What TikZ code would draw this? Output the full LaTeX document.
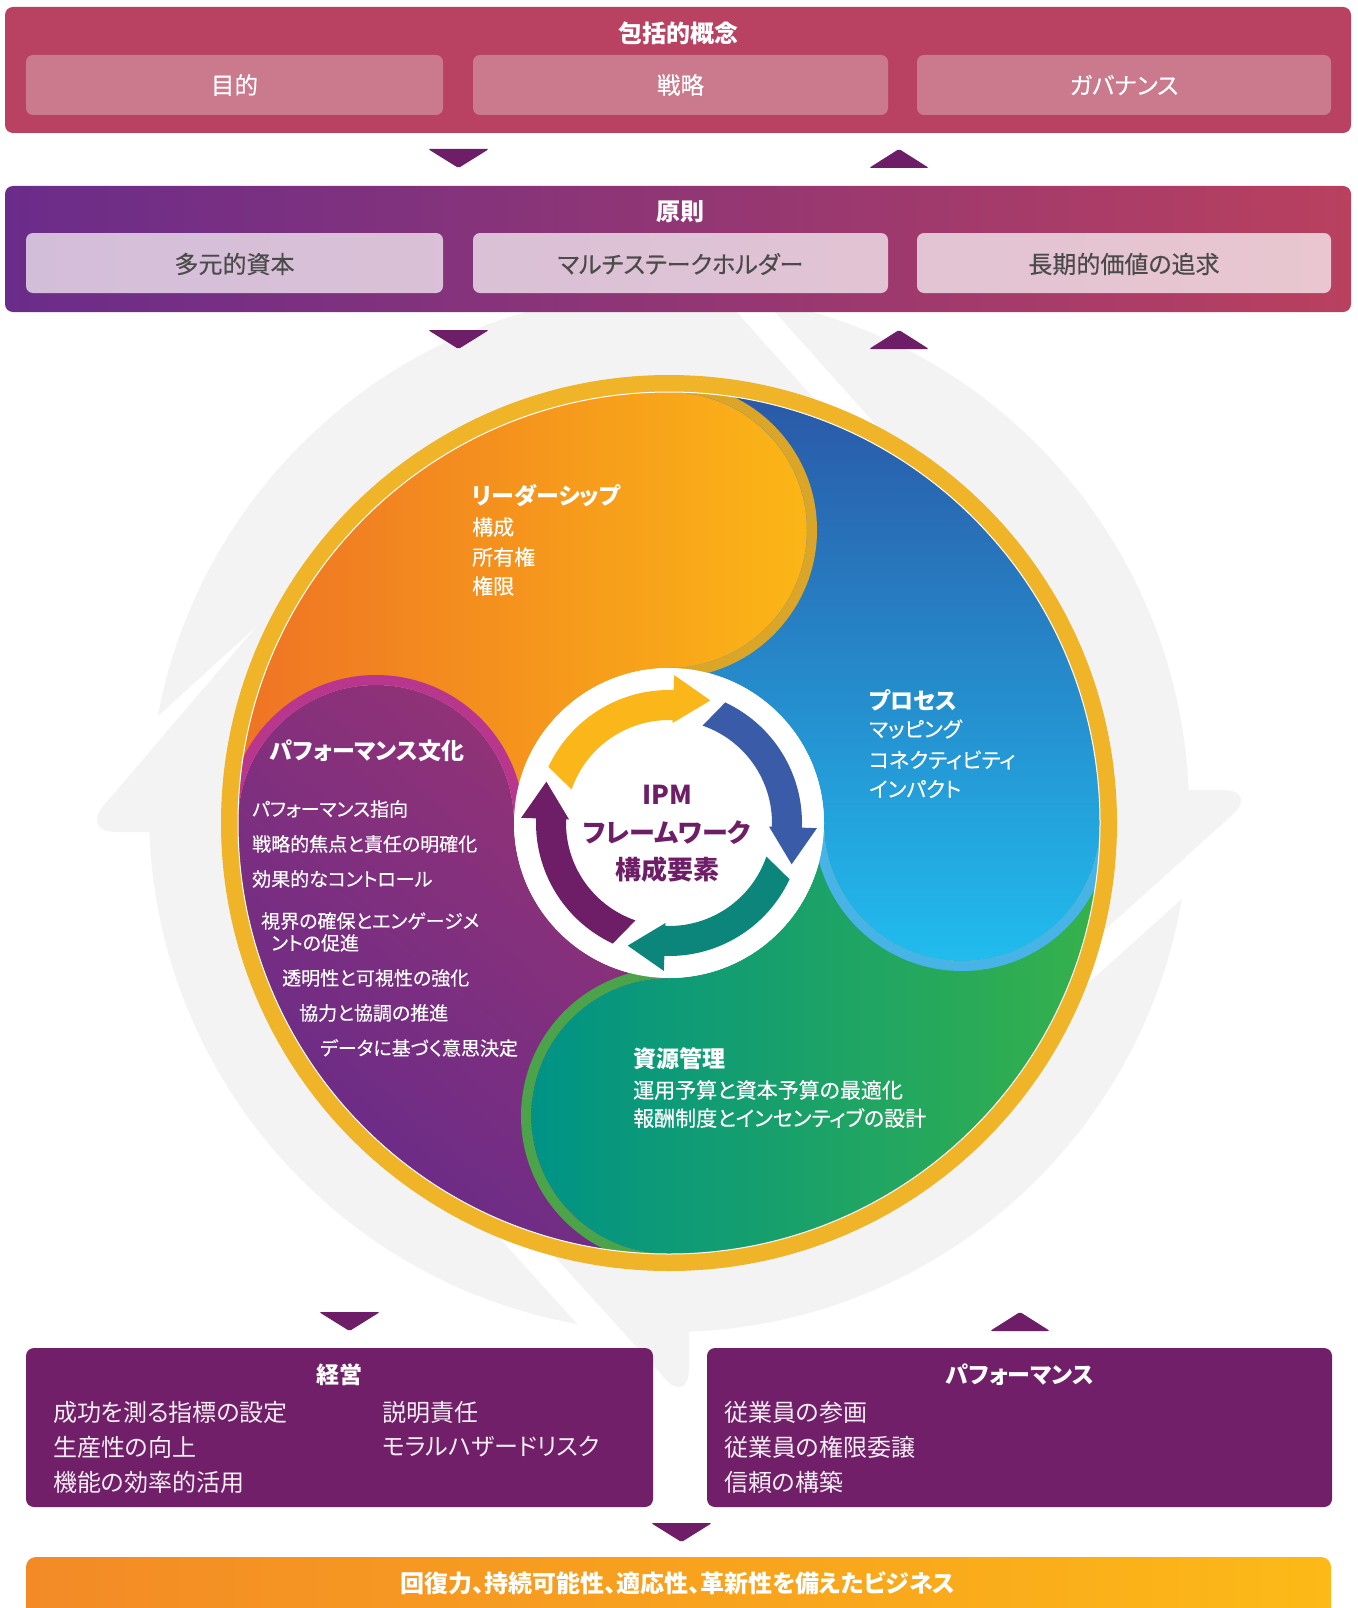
\documentclass[tikz,border=0pt]{standalone}
\usepackage{fontspec}
\setmainfont{Noto Sans CJK JP}[RawFeature=+palt]
\newfontfamily\jpmed{Noto Sans CJK JP}[RawFeature=+palt, FakeBold=0.35]
\usetikzlibrary{calc}

% palette
\definecolor{crimson}{HTML}{B94262}
\definecolor{pinkbox}{HTML}{CB798D}
\definecolor{prinL}{HTML}{6A2C8A}
\definecolor{prinM}{HTML}{8A2F78}
\definecolor{prinR}{HTML}{B9405F}
\definecolor{lavL}{HTML}{D3BEDA}
\definecolor{lavR}{HTML}{E9C6D0}
\definecolor{labelgrey}{HTML}{4B4B4B}
\definecolor{tripurple}{HTML}{6E1E66}
\definecolor{boxpurple}{HTML}{701F68}
\definecolor{barL}{HTML}{F38A26}
\definecolor{barR}{HTML}{FCB917}
\definecolor{gold}{HTML}{EFB428}
\definecolor{greybg}{HTML}{F3F3F3}
\definecolor{orL}{HTML}{EF7324}
\definecolor{orR}{HTML}{FBB616}
\definecolor{blT}{HTML}{2A58A7}
\definecolor{blB}{HTML}{21BCEE}
\definecolor{grL}{HTML}{009386}
\definecolor{grR}{HTML}{36B14A}
\definecolor{puTR}{HTML}{953375}
\definecolor{puBL}{HTML}{672B89}
\definecolor{obord}{HTML}{DBA628}
\definecolor{pbord}{HTML}{B9368F}
\definecolor{bbord}{HTML}{47B3E6}
\definecolor{gbord}{HTML}{4BA449}
\definecolor{arY}{HTML}{FBB61A}
\definecolor{arB}{HTML}{3A5CA8}
\definecolor{arT}{HTML}{0C867A}
\definecolor{arP}{HTML}{6E1E66}
\definecolor{corepurple}{HTML}{6E1E66}

\tikzset{
  ttl/.style={text=white, font=\bfseries\fontsize{24}{28}\selectfont, inner sep=0pt},
  toplbl/.style={text=white, font=\jpmed\fontsize{23.5}{28}\selectfont, inner sep=0pt},
  prinlbl/.style={text=labelgrey, font=\jpmed\fontsize{24}{28}\selectfont, inner sep=0pt},
  lobehead/.style={text=white, font=\bfseries\fontsize{23}{27}\selectfont, anchor=west, inner sep=0pt},
  lobeitem/.style={text=white, font=\jpmed\fontsize{21}{25}\selectfont, anchor=west, inner sep=0pt},
  cultitem/.style={text=white, font=\jpmed\fontsize{19}{22}\selectfont, anchor=west, inner sep=0pt},
  coretxt/.style={text=corepurple, font=\bfseries\fontsize{26}{30}\selectfont, inner sep=0pt},
  boxhead/.style={text=white, font=\bfseries\fontsize{23}{27}\selectfont, inner sep=0pt},
  boxitem/.style={text=white!92!boxpurple, font=\fontsize{24}{28}\selectfont, anchor=west, inner sep=0pt},
  bartxt/.style={text=white, font=\bfseries\fontsize{24}{28}\selectfont, inner sep=0pt},
  tri/.style={fill=tripurple, rounded corners=1.5pt},
  bulgeedge/.style={line width=10pt},
}

\begin{document}
\begin{tikzpicture}[x=1pt,y=1pt]
\useasboundingbox (0,0) rectangle (1357,-1608);
\fill[white] (0,0) rectangle (1357,-1608);

% ---------- grey cycle arrows behind the wheel ----------
\fill[greybg] (669,-812) circle[radius=520];
\fill[greybg, rounded corners=38pt] (1100,-790) -- (1260,-790) -- (1037,-991) -- cycle;
\fill[greybg, rounded corners=35pt] (220,-832) -- (81,-832) -- (276,-604) -- cycle;
\fill[greybg, rounded corners=38pt] (689,-1250) -- (689,-1406) -- (488,-1183) -- cycle;
\fill[white] (1275,-777) -- (948,-1071) -- (967,-1092) -- (1294,-798) -- cycle;
\fill[white] (684,-253) -- (871,-462) -- (892,-443) -- (705,-234) -- cycle;
\fill[white] (708,-1426) -- (487,-1182) -- (466,-1201) -- (687,-1445) -- cycle;
\fill[white] (60,-856) -- (256,-627) -- (123,-748) -- (60,-790) -- cycle;

% ---------- the wheel ----------
\coordinate (C) at (669,-823);
\coordinate (O) at (669,-530);
\coordinate (B) at (962,-823);
\coordinate (G) at (669,-1116);
\coordinate (P) at (376,-823);

% leadership lobe
\shade[left color=orL, right color=orR]
  (669,-392) arc[start angle=90, end angle=180, radius=431]
  arc[start angle=180, end angle=0, radius=138]
  arc[start angle=180, end angle=90, radius=155]
  arc[start angle=-90, end angle=90, radius=138] -- cycle;
% process lobe
\shade[top color=blT, bottom color=blB]
  (669,-392) arc[start angle=90, end angle=0, radius=431]
  arc[start angle=0, end angle=-180, radius=138]
  arc[start angle=0, end angle=90, radius=155]
  arc[start angle=-90, end angle=90, radius=138] -- cycle;
% resource lobe
\shade[left color=grL, right color=grR]
  (1100,-823) arc[start angle=0, end angle=-90, radius=431]
  arc[start angle=-90, end angle=-270, radius=138]
  arc[start angle=-90, end angle=0, radius=155]
  arc[start angle=180, end angle=360, radius=138] -- cycle;
% culture lobe
\shade[top color=puTR, bottom color=puBL, shading angle=-40]
  (669,-1254) arc[start angle=-90, end angle=-180, radius=431]
  arc[start angle=180, end angle=0, radius=138]
  arc[start angle=180, end angle=270, radius=155]
  arc[start angle=90, end angle=270, radius=138] -- cycle;

% rims of the four bulges
\draw[bulgeedge, obord] (O) ++(-90:143) arc[start angle=-90, end angle=90, radius=143];
\draw[bulgeedge, pbord] (P) ++(180:143) arc[start angle=180, end angle=0, radius=143];
\draw[bulgeedge, bbord] (B) ++(0:143) arc[start angle=0, end angle=-180, radius=143];
\draw[bulgeedge, gbord] (G) ++(-90:143) arc[start angle=-90, end angle=-270, radius=143];

% hub with the four cycle arrows
\fill[white] (C) circle[radius=155];
\foreach \k/\col in {0/arT,1/arP,2/arY,3/arB} {
  \pgfmathsetmacro\ao{-(25+90*\k)}
  \pgfmathsetmacro\ai{-(19+90*\k)}
  \pgfmathsetmacro\ab{-(92+90*\k)}
  \pgfmathsetmacro\ac{\ab-90}
  \fill[\col] ($(C)+(\ao:133)$) arc[start angle=\ao, end angle=\ab, radius=133]
    -- ($(C)+(\ab:148)$) -- ($(C)+(\ab:124)+(\ac:37)$) -- ($(C)+(\ab:100)$)
    -- ($(C)+(\ab:103)$) arc[start angle=\ab, end angle=\ai, radius=103] -- cycle;
}

% golden rim
\draw[gold, line width=17pt] (C) circle[radius=439.5];
\draw[white, line width=1pt] (C) circle[radius=431];

% wheel texts
\node[lobehead] (ldr) at (472,-496) {リーダーシップ};
\node[lobeitem] (ldr1) at (472,-527) {構成};
\node[lobeitem] (ldr2) at (472,-557) {所有権};
\node[lobeitem] (ldr3) at (472,-586) {権限};

\node[lobehead] (prc) at (869,-700) {プロセス};
\node[lobeitem] (prc1) at (869,-729) {マッピング};
\node[lobeitem] (prc2) at (869,-760) {コネクティビティ};
\node[lobeitem] (prc3) at (869,-789) {インパクト};

\node[lobehead] (cul) at (270,-751) {パフォーマンス文化};
\node[cultitem] (cul1) at (252,-809) {パフォーマンス指向};
\node[cultitem] (cul2) at (252,-844) {戦略的焦点と責任の明確化};
\node[cultitem] (cul3) at (252,-879) {効果的なコントロール};
\node[cultitem] (cul4) at (261,-921) {視界の確保とエンゲージメ};
\node[cultitem] (cul4b) at (271,-943) {ントの促進};
\node[cultitem] (cul5) at (282,-978) {透明性と可視性の強化};
\node[cultitem] (cul6) at (299,-1013) {協力と協調の推進};
\node[cultitem] (cul7) at (320,-1048) {データに基づく意思決定};

\node[lobehead] (res) at (633,-1059) {資源管理};
\node[lobeitem] (res1) at (633,-1090) {運用予算と資本予算の最適化};
\node[lobeitem] (res2) at (633,-1118) {報酬制度とインセンティブの設計};

\node[coretxt] (core1) at (667,-795) {IPM};
\node[coretxt] (core2) at (667,-833) {フレームワーク};
\node[coretxt] (core3) at (667,-870) {構成要素};

% ---------- overarching concepts ----------
\fill[crimson, rounded corners=8pt] (5,-7) rectangle (1351,-133);
\fill[pinkbox, rounded corners=7pt] (26,-55) rectangle (443,-115);
\fill[pinkbox, rounded corners=7pt] (473,-55) rectangle (888,-115);
\fill[pinkbox, rounded corners=7pt] (917,-55) rectangle (1331,-115);
\node[ttl] (incl) at (678,-33) {包括的概念};
\node[toplbl] (purp) at (234.5,-85) {目的};
\node[toplbl] (strat) at (680.5,-85) {戦略};
\node[toplbl] (gov) at (1124,-85) {ガバナンス};

\fill[tri] (428,-149) -- (489,-149) -- (458.5,-168) -- cycle;
\fill[tri] (869,-168) -- (929,-168) -- (899,-149) -- cycle;

% ---------- principles ----------
\shade[left color=prinL, middle color=prinM, right color=prinR, rounded corners=8pt] (5,-186) rectangle (1351,-312);
\shade[left color=lavL, right color=lavR, rounded corners=7pt]
  (26,-233) rectangle (443,-293) (473,-233) rectangle (888,-293) (917,-233) rectangle (1331,-293);
\node[ttl] (prin) at (680,-212) {原則};
\node[prinlbl] (cap) at (234.5,-264) {多元的資本};
\node[prinlbl] (multi) at (680.5,-264) {マルチステークホルダー};
\node[prinlbl] (longv) at (1124,-264) {長期的価値の追求};

\fill[tri] (428,-330) -- (489,-330) -- (458.5,-349) -- cycle;
\fill[tri] (869,-349) -- (929,-349) -- (899,-330) -- cycle;

% ---------- management and performance ----------
\fill[tri] (319,-1312) -- (380,-1312) -- (349.5,-1331) -- cycle;
\fill[tri] (990,-1331) -- (1050,-1331) -- (1020,-1312) -- cycle;

\fill[boxpurple, rounded corners=8pt] (26,-1348) rectangle (653,-1507);
\fill[boxpurple, rounded corners=8pt] (707,-1348) rectangle (1332,-1507);
\node[boxhead] (mgmt) at (339,-1375) {経営};
\node[boxitem] (m1) at (53,-1412) {成功を測る指標の設定};
\node[boxitem] (m2) at (53,-1447) {生産性の向上};
\node[boxitem] (m3) at (53,-1482) {機能の効率的活用};
\node[boxitem] (m4) at (382,-1412) {説明責任};
\node[boxitem] (m5) at (382,-1447) {モラルハザードリスク};
\node[boxhead] (perf) at (1020,-1375) {パフォーマンス};
\node[boxitem] (f1) at (724,-1412) {従業員の参画};
\node[boxitem] (f2) at (724,-1447) {従業員の権限委譲};
\node[boxitem] (f3) at (724,-1482) {信頼の構築};

\fill[tri] (651,-1523) -- (712,-1523) -- (681.5,-1542) -- cycle;

% ---------- outcome bar ----------
\shade[left color=barL, middle color=barR!85!barL, right color=barR, rounded corners=10pt] (26,-1557) rectangle (1331,-1630);
\node[bartxt] (goal) at (678,-1583) {回復力、持続可能性、適応性、革新性を備えたビジネス};
\end{tikzpicture}
\end{document}
